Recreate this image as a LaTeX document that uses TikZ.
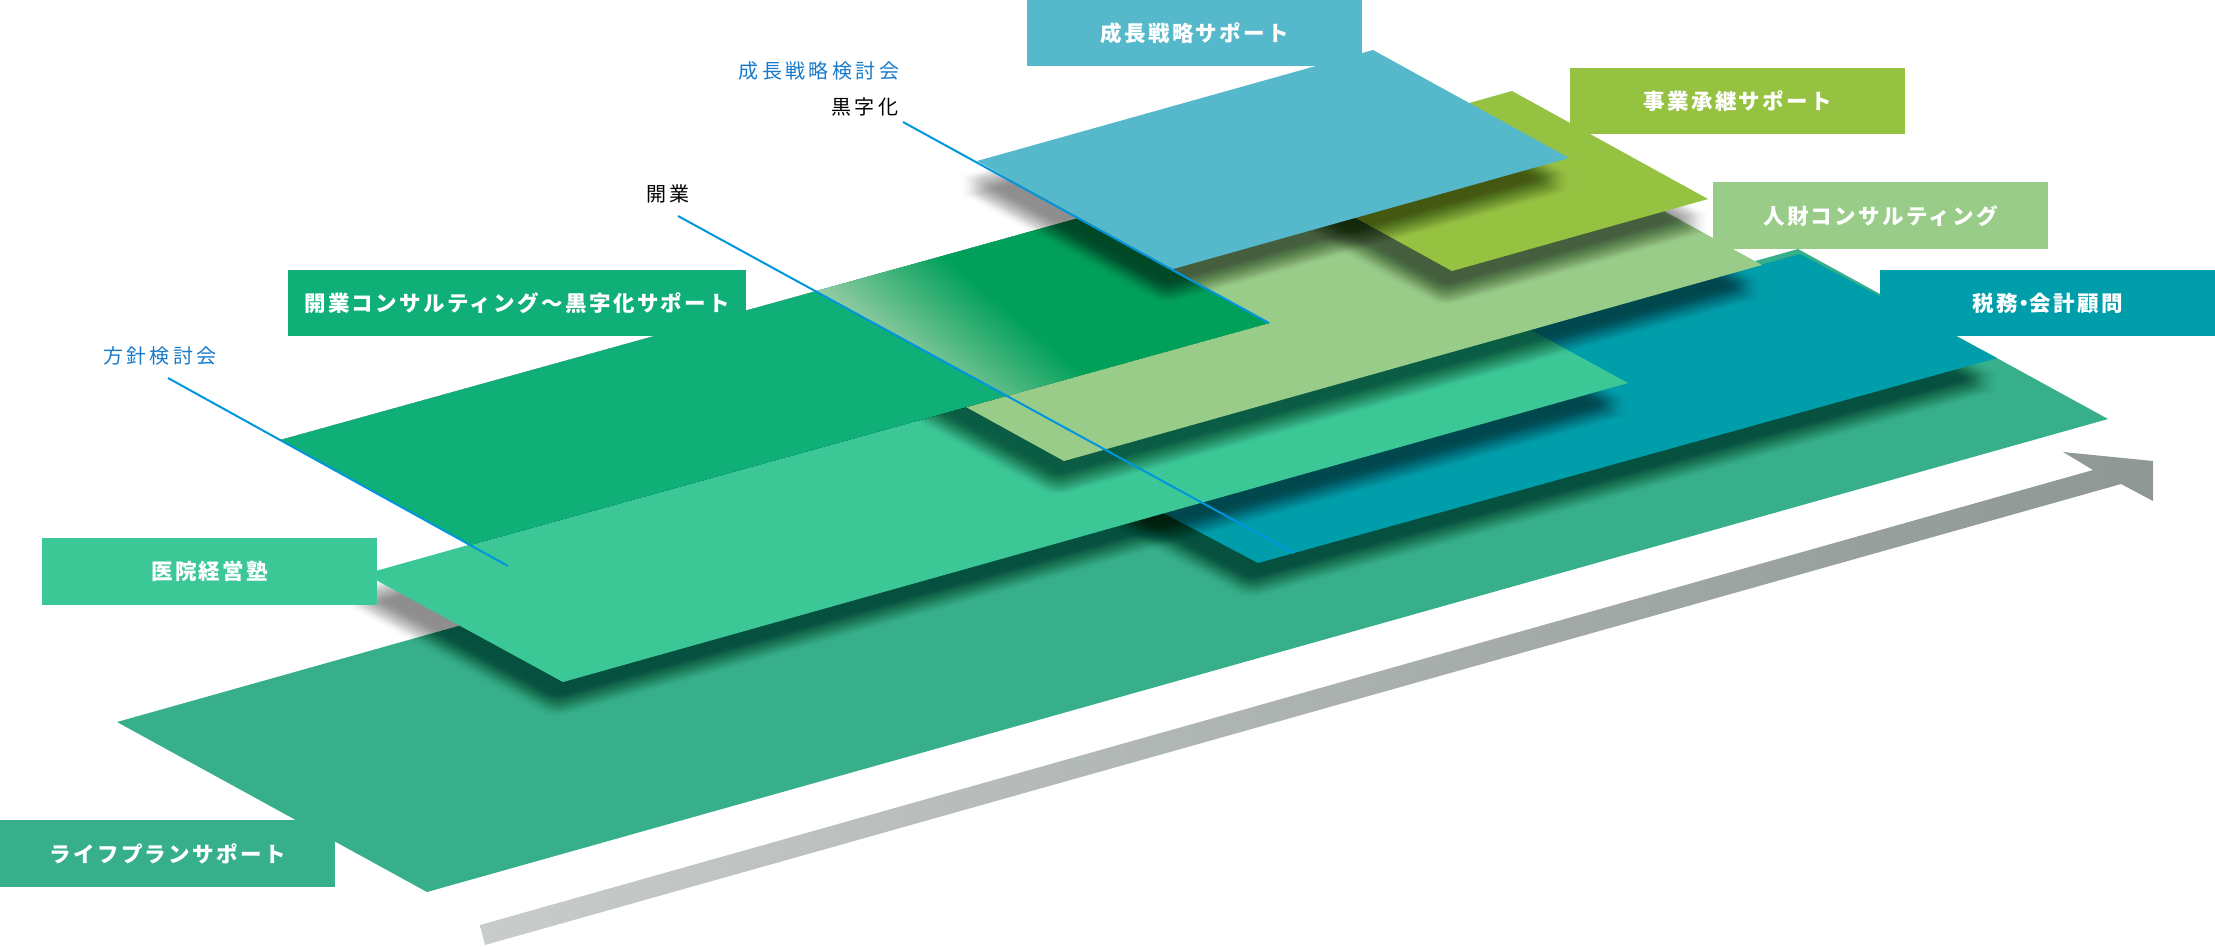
\documentclass[tikz,border=0pt]{standalone}
\usepackage{fontspec}
\newfontfamily\tagfont[LetterSpace=11]{Noto Sans CJK JP}
\newfontfamily\notefont[LetterSpace=17]{Noto Sans CJK JP}
\usepackage{tikz}
\definecolor{lifegreen}{RGB}{54,175,138}
\definecolor{iingreen}{RGB}{60,200,150}
\definecolor{kaigyogreen}{RGB}{16,175,120}
\definecolor{kurojidark}{RGB}{0,160,90}
\definecolor{kurojipale}{RGB}{150,205,165}
\definecolor{seichoblue}{RGB}{85,185,203}
\definecolor{jigyogreen}{RGB}{150,194,66}
\definecolor{jinzaigreen}{RGB}{152,204,136}
\definecolor{zeimuteal}{RGB}{0,158,170}
\definecolor{arrowlight}{RGB}{200,204,202}
\definecolor{arrowdark}{RGB}{142,151,148}
\definecolor{cueblue}{RGB}{0,150,222}
\definecolor{noteblue}{RGB}{24,122,200}
\pgfdeclarehorizontalshading{kurojishade}{100bp}{color(0bp)=(kurojipale); color(28bp)=(kurojipale); color(46bp)=(kurojidark); color(100bp)=(kurojidark)}
% soft drop shadow: many faint shifted copies of a sheet
\newcommand{\sheetshadow}[1]{%
  \foreach \dx in {-17,-14,-11,-8,-5,-2,1} {
    \foreach \dy in {15,18,21,24,27,30,33} {
      \fill[black, opacity=0.0121, shift={(\dx,\dy)}] #1;
    }
  }%
}

\begin{document}
\begin{tikzpicture}[x=1pt, y=-1pt,
  tagbox/.style={anchor=north west, inner sep=0pt, minimum width=335pt, minimum height=66pt, text=white, font=\tagfont\bfseries\fontsize{21.5pt}{24pt}\selectfont},
  notetext/.style={inner sep=0pt, font=\notefont\fontsize{20pt}{24pt}\selectfont},
  cue/.style={draw=cueblue, line width=2pt}]
  \useasboundingbox (0,0) rectangle (2215,946);

  % growth arrow
  \coordinate (arA) at (480,925); \coordinate (arB) at (485,945);
  \coordinate (arJ) at (2093,470); \coordinate (arN) at (2121,484);
  \coordinate (arH1) at (2063,452); \coordinate (arH2) at (2153,461); \coordinate (arH3) at (2153,501);
  \shade[left color=arrowlight, right color=arrowdark] (arA) -- (arJ) -- (arH1) -- (arH2) -- (arH3) -- (arN) -- (arB) -- cycle;

  % sheets, bottom to top
  \def\lifesheet{(117,722) -- (427,892) -- (2108,419) -- (1798,249) -- cycle}
  \def\zeimusheet{(1061,459) -- (1258,563) -- (1997,358) -- (1800,254) -- cycle}
  \def\iinsheet{(365,574) -- (563,682) -- (1628,383) -- (1430,275) -- cycle}
  \def\jinzaisheet{(866,352) -- (1064,461) -- (1762,265) -- (1564,156) -- cycle}
  \def\jigyosheet{(1256,163) -- (1452,271) -- (1708,199) -- (1512,91) -- cycle}
  \def\seichosheet{(977,161) -- (1173,269) -- (1569,158) -- (1373,50) -- cycle}
  \coordinate (kgL) at (280,440); \coordinate (kgB) at (470,545);
  \coordinate (kgR) at (1269,323); \coordinate (kgT) at (1079,218);
  \def\kaigyosheet{(kgL) -- (kgB) -- (kgR) -- (kgT) -- cycle}

  \fill[lifegreen] \lifesheet;
  \sheetshadow{\zeimusheet}   \fill[zeimuteal] \zeimusheet;
  \sheetshadow{\iinsheet}     \fill[iingreen] \iinsheet;
  \sheetshadow{\jinzaisheet}  \fill[jinzaigreen] \jinzaisheet;
  \sheetshadow{\kaigyosheet}  \fill[kaigyogreen] \kaigyosheet;
  % kurojika part of the kaigyo sheet
  \coordinate (kaiA) at (678,216); \coordinate (kaiB) at (1294,553);
  \coordinate (kuA) at (intersection of kgL--kgT and kaiA--kaiB);
  \coordinate (kuB) at (intersection of kgB--kgR and kaiA--kaiB);
  \shade[shading=kurojishade, shading angle=50] (kuA) -- (kgT) -- (kgR) -- (kuB) -- cycle;
  \sheetshadow{\jigyosheet}   \fill[jigyogreen] \jigyosheet;
  \sheetshadow{\seichosheet}  \fill[seichoblue] \seichosheet;

  % milestone lines
  \coordinate (hoA) at (168,378); \coordinate (hoB) at (508,566);
  \coordinate (krA) at (903,122);
  \draw[cue] (hoA) -- (hoB);
  \draw[cue] (kaiA) -- (kaiB);
  \draw[cue] (krA) -- (kgR);

  % milestone notes
  \node[notetext, text=noteblue] (noteSeicho) at (819,71) {成長戦略検討会};
  \node[notetext] (noteKuroji) at (865,107) {黒字化};
  \node[notetext] (noteKaigyo) at (668,194) {開業};
  \node[notetext, text=noteblue] (noteHoshin) at (160,356) {方針検討会};

  % service tags
  \node[tagbox, fill=seichoblue] (tagSeicho) at (1027,0) {成長戦略サポート};
  \node[tagbox, fill=jigyogreen] (tagJigyo) at (1570,68) {事業承継サポート};
  \node[tagbox, fill=jinzaigreen, minimum height=67pt] (tagJinzai) at (1713,182) {人財コンサルティング};
  \node[tagbox, fill=zeimuteal] (tagZeimu) at (1880,270) {税務\hspace{-5pt}・\hspace{-5pt}会計顧問};
  \node[tagbox, fill=kaigyogreen, minimum width=458pt] (tagKaigyo) at (288,270) {開業コンサルティング～黒字化サポート};
  \node[tagbox, fill=iingreen, minimum height=67pt] (tagIin) at (42,538) {医院経営塾};
  \node[tagbox, fill=lifegreen, minimum height=67pt] (tagLife) at (0,820) {ライフプランサポート};
\end{tikzpicture}
\end{document}
